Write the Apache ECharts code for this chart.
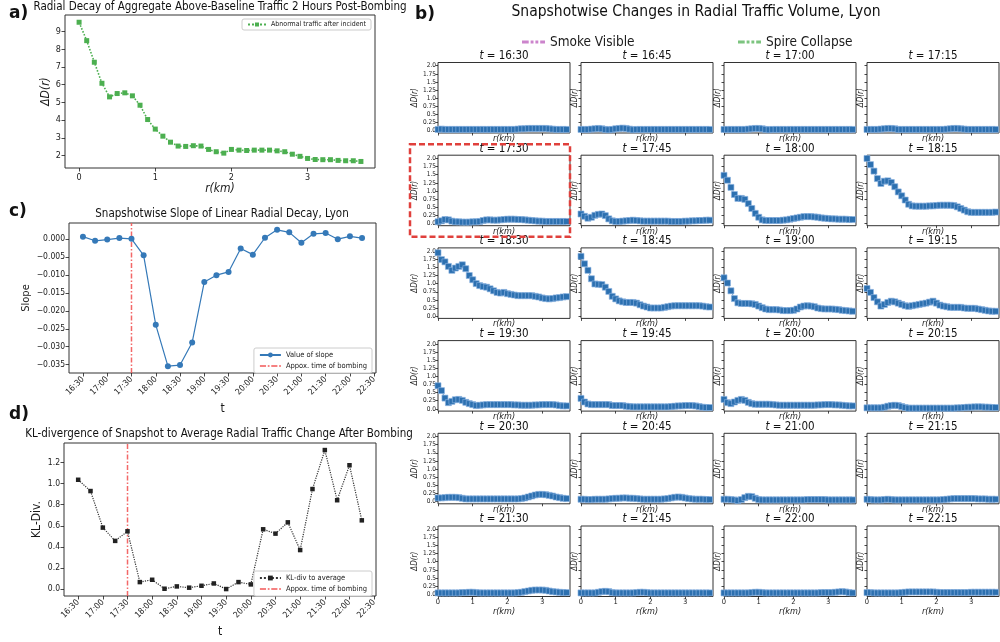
<!DOCTYPE html>
<html>
<head>
<meta charset="utf-8">
<script src="https://cdn.jsdelivr.net/npm/echarts@6/dist/echarts.min.js"></script>
<style>
  html, body { margin: 0; padding: 0; background: #fff; }
  #chart { width: 1000px; height: 642px; }
</style>
</head>
<body>
<div id="chart"></div>
<script>
// radial distance bins (km)
const radius = [0.0,0.1,0.2,0.3,0.4,0.5,0.6,0.7,0.8,0.9,1.0,1.1,1.2,1.3,1.4,1.5,1.6,1.7,1.8,1.9,2.0,2.1,2.2,2.3,2.4,2.5,2.6,2.7,2.8,2.9,3.0,3.1,3.2,3.3,3.4,3.5,3.6,3.7];

// a) aggregate above-baseline traffic, 2h post-bombing
const aggregateDecay = [9.53,8.49,7.27,6.08,5.31,5.50,5.54,5.37,4.84,4.03,3.49,3.09,2.75,2.53,2.51,2.55,2.53,2.34,2.21,2.13,2.34,2.30,2.28,2.30,2.30,2.30,2.26,2.21,2.07,1.95,1.83,1.77,1.76,1.76,1.72,1.70,1.70,1.66];

const snapshotTimes = ['16:30','16:45','17:00','17:15','17:30','17:45','18:00','18:15','18:30','18:45','19:00','19:15','19:30','19:45','20:00','20:15','20:30','20:45','21:00','21:15','21:30','21:45','22:00','22:15'];
const timeTicks = ['16:30','17:00','17:30','18:00','18:30','19:00','19:30','20:00','20:30','21:00','21:30','22:00','22:30'];
const bombingTime = '17:30';
const highlightTime = '17:30';

// c) slope of linear radial decay per snapshot
const slopeValues = [0.0006,-0.00055,-0.0002,0.0002,0.0,-0.0046,-0.0239,-0.0354,-0.0351,-0.0288,-0.0120,-0.0101,-0.0092,-0.0027,-0.0044,0.0003,0.0025,0.0018,-0.0011,0.0014,0.0016,-0.0001,0.0007,0.0002];
const slopeTickLabels = ['0.000','\u22120.005','\u22120.010','\u22120.015','\u22120.020','\u22120.025','\u22120.030','\u22120.035'];
const slopeRange = [-0.0373, 0.0044];

// d) KL divergence to the average post-bombing profile
const klValues = [1.037,0.93,0.583,0.457,0.548,0.066,0.088,0.003,0.025,0.013,0.031,0.053,0.0,0.066,0.044,0.567,0.526,0.633,0.37,0.949,1.319,0.843,1.175,0.652];
const klTickLabels = ['0.0','0.2','0.4','0.6','0.8','1.0','1.2'];
const klRange = [-0.066, 1.386];

const aggXTickLabels = ['0','1','2','3'];
const aggYTickLabels = ['2','3','4','5','6','7','8','9'];
const decayXTickLabels = ['0','1','2','3'];
const decayYTickLabels = ['0.0','0.25','0.5','0.75','1.0','1.25','1.5','1.75','2.0'];

// b) snapshot radial profiles, one row per snapshot time
const snapshotDecay = [
  [0.04,0.05,0.04,0.04,0.04,0.04,0.04,0.04,0.04,0.04,0.04,0.04,0.04,0.04,0.04,0.04,0.04,0.04,0.04,0.04,0.04,0.04,0.04,0.05,0.06,0.06,0.07,0.07,0.07,0.07,0.07,0.07,0.06,0.05,0.04,0.04,0.04,0.04], // 16:30
  [0.04,0.04,0.04,0.05,0.06,0.07,0.06,0.04,0.03,0.04,0.06,0.07,0.08,0.07,0.05,0.03,0.04,0.04,0.04,0.04,0.04,0.04,0.04,0.04,0.04,0.04,0.04,0.04,0.04,0.04,0.04,0.04,0.04,0.04,0.04,0.04,0.04,0.04], // 16:45
  [0.04,0.04,0.04,0.04,0.04,0.04,0.04,0.05,0.06,0.07,0.07,0.06,0.04,0.03,0.04,0.04,0.04,0.04,0.04,0.04,0.04,0.04,0.04,0.04,0.04,0.04,0.04,0.04,0.04,0.04,0.04,0.04,0.04,0.04,0.04,0.04,0.04,0.04], // 17:00
  [0.04,0.04,0.04,0.04,0.05,0.06,0.07,0.07,0.06,0.04,0.04,0.04,0.04,0.04,0.04,0.04,0.04,0.04,0.04,0.04,0.04,0.04,0.04,0.05,0.06,0.07,0.07,0.06,0.05,0.04,0.04,0.04,0.04,0.04,0.04,0.04,0.04,0.04], // 17:15
  [0.05,0.08,0.12,0.11,0.07,0.05,0.05,0.04,0.04,0.04,0.05,0.05,0.06,0.09,0.11,0.11,0.10,0.10,0.11,0.12,0.13,0.13,0.13,0.12,0.12,0.11,0.10,0.09,0.08,0.07,0.07,0.06,0.06,0.06,0.06,0.06,0.06,0.06], // 17:30
  [0.29,0.22,0.16,0.19,0.25,0.28,0.29,0.24,0.14,0.08,0.06,0.06,0.07,0.08,0.09,0.10,0.09,0.08,0.07,0.07,0.07,0.07,0.07,0.07,0.07,0.07,0.06,0.06,0.06,0.06,0.07,0.07,0.08,0.08,0.09,0.09,0.10,0.10], // 17:45
  [1.48,1.33,1.11,0.89,0.77,0.77,0.74,0.61,0.46,0.31,0.19,0.11,0.09,0.09,0.09,0.09,0.09,0.10,0.11,0.13,0.15,0.17,0.19,0.21,0.21,0.21,0.20,0.19,0.17,0.16,0.15,0.14,0.14,0.13,0.13,0.13,0.12,0.12], // 18:00
  [2.00,1.81,1.61,1.38,1.23,1.30,1.31,1.26,1.13,0.97,0.85,0.72,0.59,0.54,0.53,0.53,0.53,0.53,0.54,0.54,0.55,0.56,0.56,0.56,0.56,0.55,0.51,0.46,0.41,0.36,0.34,0.34,0.34,0.34,0.34,0.34,0.34,0.35], // 18:15
  [1.95,1.74,1.67,1.53,1.41,1.48,1.53,1.58,1.46,1.25,1.12,1.00,0.94,0.91,0.89,0.84,0.78,0.73,0.71,0.73,0.69,0.67,0.65,0.63,0.63,0.63,0.63,0.63,0.61,0.59,0.56,0.54,0.53,0.54,0.56,0.57,0.59,0.60], // 18:30
  [1.84,1.61,1.41,1.15,0.99,0.98,0.97,0.89,0.76,0.61,0.53,0.47,0.44,0.42,0.42,0.42,0.40,0.35,0.31,0.28,0.25,0.25,0.25,0.25,0.27,0.29,0.31,0.32,0.32,0.32,0.32,0.32,0.32,0.32,0.32,0.31,0.29,0.28], // 18:45
  [1.18,1.02,0.78,0.54,0.41,0.39,0.39,0.39,0.38,0.36,0.31,0.26,0.22,0.20,0.20,0.20,0.19,0.17,0.17,0.17,0.18,0.22,0.28,0.31,0.32,0.31,0.29,0.25,0.23,0.22,0.22,0.22,0.21,0.20,0.18,0.17,0.16,0.15], // 19:00
  [0.85,0.73,0.57,0.44,0.31,0.36,0.42,0.46,0.44,0.40,0.36,0.32,0.30,0.32,0.34,0.36,0.38,0.40,0.43,0.46,0.40,0.34,0.31,0.29,0.27,0.27,0.27,0.27,0.25,0.24,0.24,0.24,0.22,0.20,0.18,0.16,0.15,0.15], // 19:15
  [0.71,0.56,0.33,0.19,0.23,0.28,0.29,0.26,0.20,0.16,0.13,0.10,0.11,0.12,0.13,0.13,0.13,0.13,0.13,0.13,0.13,0.13,0.12,0.12,0.11,0.11,0.11,0.11,0.12,0.12,0.13,0.13,0.13,0.13,0.12,0.10,0.09,0.09], // 19:30
  [0.32,0.21,0.15,0.13,0.13,0.13,0.13,0.13,0.13,0.10,0.10,0.10,0.10,0.08,0.07,0.06,0.06,0.06,0.06,0.06,0.06,0.06,0.06,0.06,0.06,0.06,0.07,0.08,0.09,0.09,0.10,0.10,0.10,0.09,0.07,0.05,0.04,0.04], // 19:45
  [0.29,0.19,0.16,0.21,0.26,0.29,0.26,0.20,0.16,0.14,0.14,0.14,0.14,0.14,0.13,0.12,0.11,0.11,0.11,0.11,0.11,0.11,0.11,0.11,0.11,0.11,0.11,0.12,0.12,0.13,0.13,0.13,0.12,0.12,0.11,0.10,0.09,0.09], // 20:00
  [0.03,0.03,0.03,0.03,0.03,0.05,0.08,0.10,0.11,0.10,0.07,0.04,0.02,0.02,0.02,0.02,0.02,0.02,0.02,0.02,0.02,0.02,0.02,0.02,0.02,0.02,0.03,0.03,0.04,0.05,0.05,0.06,0.06,0.06,0.05,0.05,0.04,0.04], // 20:15
  [0.11,0.11,0.12,0.13,0.13,0.13,0.12,0.10,0.08,0.08,0.08,0.08,0.08,0.08,0.08,0.08,0.08,0.08,0.08,0.08,0.08,0.08,0.08,0.08,0.09,0.11,0.14,0.17,0.20,0.22,0.22,0.21,0.19,0.17,0.14,0.12,0.10,0.09], // 20:30
  [0.07,0.07,0.06,0.06,0.07,0.07,0.07,0.07,0.08,0.09,0.10,0.10,0.11,0.11,0.10,0.10,0.09,0.08,0.07,0.07,0.07,0.07,0.07,0.07,0.08,0.09,0.11,0.13,0.14,0.13,0.11,0.09,0.08,0.07,0.07,0.07,0.06,0.06], // 20:45
  [0.07,0.07,0.06,0.05,0.03,0.06,0.12,0.16,0.15,0.10,0.06,0.05,0.05,0.05,0.05,0.05,0.05,0.05,0.05,0.05,0.05,0.05,0.05,0.05,0.06,0.06,0.06,0.06,0.06,0.06,0.05,0.05,0.05,0.05,0.05,0.05,0.05,0.05], // 21:00
  [0.07,0.06,0.05,0.05,0.05,0.06,0.07,0.06,0.05,0.05,0.05,0.05,0.05,0.05,0.05,0.05,0.05,0.05,0.05,0.05,0.05,0.05,0.06,0.07,0.08,0.09,0.09,0.09,0.09,0.09,0.09,0.09,0.08,0.08,0.08,0.07,0.07,0.07], // 21:15
  [0.04,0.04,0.04,0.04,0.04,0.04,0.04,0.05,0.05,0.06,0.06,0.05,0.04,0.04,0.04,0.04,0.04,0.04,0.04,0.04,0.04,0.04,0.04,0.05,0.06,0.08,0.10,0.12,0.13,0.13,0.13,0.12,0.10,0.08,0.07,0.06,0.05,0.05], // 21:30
  [0.04,0.04,0.04,0.04,0.04,0.06,0.08,0.09,0.08,0.05,0.04,0.04,0.04,0.04,0.04,0.04,0.05,0.06,0.06,0.05,0.04,0.04,0.04,0.04,0.04,0.04,0.04,0.04,0.04,0.04,0.04,0.04,0.04,0.04,0.04,0.04,0.04,0.04], // 21:45
  [0.04,0.04,0.04,0.04,0.04,0.04,0.04,0.04,0.05,0.06,0.06,0.05,0.04,0.04,0.04,0.04,0.04,0.04,0.04,0.04,0.04,0.04,0.04,0.04,0.04,0.04,0.04,0.04,0.05,0.05,0.05,0.05,0.06,0.07,0.08,0.07,0.05,0.04], // 22:00
  [0.05,0.05,0.04,0.04,0.04,0.04,0.04,0.04,0.04,0.04,0.05,0.06,0.07,0.07,0.07,0.07,0.07,0.07,0.07,0.07,0.06,0.05,0.05,0.05,0.05,0.05,0.05,0.05,0.05,0.05,0.06,0.06,0.06,0.06,0.06,0.06,0.06,0.06]  // 22:15
];

const FONT = '"DejaVu Sans Condensed", "DejaVu Sans", sans-serif';
const INK = '#1a1a1a';
const BLUE = '#3579b8';
const SNAP_BLUE = '#2c70b0';
const GREEN = '#4caf50';
const BOMB_RED = '#f25858';
const DASH_DOT_ICON = 'path://M0,0h7v1.5h-7z M9,0h2v1.5h-2z M13,0h7v1.5h-7z M22,0h2v1.5h-2z';
const THICK_DASH_ICON = 'path://M0,0h7v3h-7z M9,0h3v3h-3z M14,0h3v3h-3z M19,0h5v3h-5z';

const toMinutes = t => { const [h, m] = t.split(':').map(Number); return h * 60 + m; };
const timeIndex = t => (toMinutes(t) - toMinutes(snapshotTimes[0])) / 15;
const num = s => parseFloat(String(s).replace('\u2212', '-'));

const grid = [], xAxis = [], yAxis = [], series = [], title = [], legend = [];

function box(left, top, width, height) {
  grid.push({ left, top, width, height, show: true, borderColor: '#333', borderWidth: 1,
    backgroundColor: 'transparent', outerBoundsMode: 'none' });
  return grid.length - 1;
}

function axis(o) {
  const lookup = {};
  if (o.labels) o.ticks.forEach((v, i) => { lookup[v] = o.labels[i]; });
  return {
    gridIndex: o.gridIndex, type: 'value', min: o.min, max: o.max,
    axisLine: { show: false, onZero: false },
    splitLine: { show: false },
    axisTick: { show: true, customValues: o.ticks, length: o.tickLen || 3.5, lineStyle: { color: INK, width: 0.8 } },
    axisLabel: {
      show: !!o.labels, customValues: o.ticks, formatter: v => (lookup[v] !== undefined ? lookup[v] : ''),
      fontSize: o.fontSize || 9, color: INK, fontFamily: FONT, margin: o.margin === undefined ? 4 : o.margin,
      rotate: o.rotate || 0, hideOverlap: false
    },
    name: o.name || '', nameLocation: 'middle', nameGap: o.nameGap || 0,
    nameTextStyle: { fontSize: o.nameSize || 11, color: INK, fontFamily: FONT, fontStyle: o.italic ? 'italic' : 'normal' }
  };
}

function legendBox(names, right, top, fontSize, extra) {
  return Object.assign({
    data: names, right, top, orient: 'vertical',
    itemWidth: 21, itemHeight: 6, itemGap: 3, padding: [3, 5],
    borderColor: '#ccc', borderWidth: 1, borderRadius: 2, backgroundColor: '#fff',
    selectedMode: false, textStyle: { fontSize, fontFamily: FONT, color: INK }
  }, extra || {});
}

// ---------- a) ----------
const gA = box(65, 15, 310, 153);
xAxis.push(axis({ gridIndex: gA, min: -0.185, max: 3.885, ticks: aggXTickLabels.map(num), labels: aggXTickLabels,
  fontSize: 9, margin: 5, name: 'r(km)', nameGap: 13, nameSize: 12, italic: true }));
yAxis.push(axis({ gridIndex: gA, min: 1.29, max: 9.94, ticks: aggYTickLabels.map(num), labels: aggYTickLabels,
  fontSize: 9, margin: 4, name: '\u0394D(r)', nameGap: 12, nameSize: 12, italic: true }));
series.push({
  name: 'Abnormal traffic after incident', type: 'line', xAxisIndex: gA, yAxisIndex: gA,
  data: radius.map((r, i) => [r, aggregateDecay[i]]),
  symbol: 'rect', symbolSize: 5, itemStyle: { color: GREEN },
  lineStyle: { color: GREEN, width: 1.6, type: 'dotted' }
});
legend.push(legendBox(['Abnormal traffic after incident'], 629, 19, 7, { itemWidth: 18, itemHeight: 5, padding: [2, 5] }));

// vertical marker at the bombing time, spanning the axis range
function bombLine(g, range) {
  const x = timeIndex(bombingTime);
  return {
    name: 'Appox. time of bombing', type: 'line', xAxisIndex: g, yAxisIndex: g,
    data: [[x, range[0]], [x, range[1]]], symbol: 'none', z: 1,
    itemStyle: { color: BOMB_RED },
    lineStyle: { color: BOMB_RED, width: 1.5, opacity: 0.9, type: [5, 2, 1.5, 2] }
  };
}

// ---------- c) ----------
const timeTickIdx = timeTicks.map(timeIndex);
const gC = box(69, 223, 307, 150);
xAxis.push(axis({ gridIndex: gC, min: -1.15, max: 24.15, ticks: timeTickIdx, labels: timeTicks,
  fontSize: 8.5, margin: 5, rotate: 45, name: 't', nameGap: 30, nameSize: 12 }));
yAxis.push(axis({ gridIndex: gC, min: slopeRange[0], max: slopeRange[1], ticks: slopeTickLabels.map(num), labels: slopeTickLabels,
  fontSize: 8.5, margin: 4, name: 'Slope', nameGap: 37, nameSize: 11 }));
series.push({
  name: 'Value of slope', type: 'line', xAxisIndex: gC, yAxisIndex: gC,
  data: snapshotTimes.map((t, i) => [timeIndex(t), slopeValues[i]]),
  symbol: 'circle', symbolSize: 6, itemStyle: { color: BLUE }, lineStyle: { color: BLUE, width: 1.2 }, z: 3
});
series.push(bombLine(gC, slopeRange));
legend.push(legendBox(['Value of slope', { name: 'Appox. time of bombing', icon: DASH_DOT_ICON }], 628, 348, 7.5));

// ---------- d) ----------
const gD = box(64, 443, 312, 153);
xAxis.push(axis({ gridIndex: gD, min: -1.15, max: 24.15, ticks: timeTickIdx, labels: timeTicks,
  fontSize: 8.5, margin: 5, rotate: 45, name: 't', nameGap: 30, nameSize: 12 }));
yAxis.push(axis({ gridIndex: gD, min: klRange[0], max: klRange[1], ticks: klTickLabels.map(num), labels: klTickLabels,
  fontSize: 8.5, margin: 4, name: 'KL-Div.', nameGap: 21, nameSize: 12 }));
series.push({
  name: 'KL-div to average', type: 'line', xAxisIndex: gD, yAxisIndex: gD,
  data: snapshotTimes.map((t, i) => [timeIndex(t), klValues[i]]),
  symbol: 'rect', symbolSize: 4.5, itemStyle: { color: '#222' }, lineStyle: { color: '#333', width: 1.2, type: 'dotted' }, z: 3
});
series.push(bombLine(gD, klRange));
legend.push(legendBox(['KL-div to average', { name: 'Appox. time of bombing', icon: DASH_DOT_ICON }], 628, 571, 7.5));

// ---------- b) small multiples ----------
const colLeft0 = 438, colStep = 143, cellW = 132;
const rowTop0 = 62.5, rowStep = 92.7, cellH = 70.5;
let firstSmall = -1;
snapshotTimes.forEach((t, k) => {
  const row = Math.floor(k / 4), col = k % 4;
  const left = colLeft0 + col * colStep, top = rowTop0 + row * rowStep;
  const g = box(left, top, cellW, cellH);
  if (firstSmall < 0) firstSmall = g;
  const bottomRow = row === 5, firstCol = col === 0;
  xAxis.push(axis({ gridIndex: g, min: 0, max: 3.8, ticks: decayXTickLabels.map(num),
    labels: bottomRow ? decayXTickLabels : null, fontSize: 7.5, margin: 2, tickLen: 2.5,
    name: 'r(km)', nameGap: bottomRow ? 8 : 1, nameSize: 9, italic: true }));
  yAxis.push(axis({ gridIndex: g, min: -0.07, max: 2.1, ticks: decayYTickLabels.map(num),
    labels: firstCol ? decayYTickLabels : null, fontSize: 6.5, margin: 2, tickLen: 2.5,
    name: '\u0394D(r)', nameGap: firstCol ? 13 : 2, nameSize: 8, italic: true }));
  series.push({
    name: 'snapshot ' + t, type: 'line', xAxisIndex: g, yAxisIndex: g,
    data: radius.map((r, i) => [r, snapshotDecay[k][i]]),
    symbol: 'rect', symbolSize: 6,
    itemStyle: { color: SNAP_BLUE, borderColor: 'rgba(140,180,225,0.8)', borderWidth: 0.8 },
    lineStyle: { color: SNAP_BLUE, width: 1, type: 'dotted' }
  });
  title.push({
    text: '{i|t} = ' + t, left: left + cellW / 2, top: top - 12.5, textAlign: 'center', padding: 0,
    textStyle: { fontSize: 11.5, fontWeight: 'normal', color: '#111', fontFamily: FONT,
      rich: { i: { fontStyle: 'italic', fontSize: 11.5, fontFamily: FONT, color: '#111' } } }
  });
});

// event markers for panel b (legend only)
series.push({ name: 'Smoke Visible', type: 'line', xAxisIndex: firstSmall, yAxisIndex: firstSmall, data: [],
  symbol: 'none', itemStyle: { color: '#cc84cc' }, lineStyle: { color: '#cc84cc', width: 3, type: [5, 2, 2, 2] } });
series.push({ name: 'Spire Collapse', type: 'line', xAxisIndex: firstSmall, yAxisIndex: firstSmall, data: [],
  symbol: 'none', itemStyle: { color: '#7cc47f' }, lineStyle: { color: '#7cc47f', width: 3, type: [5, 2, 2, 2] } });
const bigLegendText = { fontSize: 13.5, fontFamily: FONT, color: INK };
legend.push({ data: [{ name: 'Smoke Visible', icon: THICK_DASH_ICON }], left: 522, top: 35, itemWidth: 23, itemHeight: 3, itemGap: 8,
  padding: 0, selectedMode: false, textStyle: bigLegendText });
legend.push({ data: [{ name: 'Spire Collapse', icon: THICK_DASH_ICON }], left: 738, top: 35, itemWidth: 23, itemHeight: 3, itemGap: 8,
  padding: 0, selectedMode: false, textStyle: bigLegendText });

// panel titles
const titleText = { fontSize: 11.5, fontWeight: 'normal', color: '#111', fontFamily: FONT };
title.push({ text: 'Radial Decay of Aggregate Above-Baseline Traffic 2 Hours Post-Bombing', left: 220, top: 1,
  textAlign: 'center', padding: 0, textStyle: titleText });
title.push({ text: 'Snapshotwise Slope of Linear Radial Decay, Lyon', left: 222, top: 208,
  textAlign: 'center', padding: 0, textStyle: titleText });
title.push({ text: 'KL-divergence of Snapshot to Average Radial Traffic Change After Bombing', left: 219, top: 428,
  textAlign: 'center', padding: 0, textStyle: titleText });
title.push({ text: 'Snapshotwise Changes in Radial Traffic Volume, Lyon', left: 696, top: 4,
  textAlign: 'center', padding: 0, textStyle: { fontSize: 15.5, fontWeight: 'normal', color: '#111', fontFamily: FONT } });

// panel letters and the highlighted bombing snapshot
const letterStyle = { font: 'bold 17px "DejaVu Sans", sans-serif', fill: '#111', textVerticalAlign: 'middle' };
const hk = snapshotTimes.indexOf(highlightTime);
const hx = colLeft0 + (hk % 4) * colStep, hy = rowTop0 + Math.floor(hk / 4) * rowStep;
const graphic = [
  { type: 'text', x: 9, y: 14, style: Object.assign({ text: 'a)' }, letterStyle) },
  { type: 'text', x: 415, y: 15, style: Object.assign({ text: 'b)' }, letterStyle) },
  { type: 'text', x: 9, y: 212, style: Object.assign({ text: 'c)' }, letterStyle) },
  { type: 'text', x: 9, y: 415, style: Object.assign({ text: 'd)' }, letterStyle) },
  { type: 'rect', silent: true, z: 100,
    shape: { x: hx - 28, y: hy - 11, width: cellW + 28, height: cellH + 22 },
    style: { fill: 'none', stroke: '#e0403c', lineWidth: 2.5, lineDash: [6, 3] } }
];

const chart = echarts.init(document.getElementById('chart'), null, { renderer: 'canvas' });
chart.setOption({
  animation: false,
  backgroundColor: '#fff',
  textStyle: { fontFamily: FONT },
  grid, xAxis, yAxis, series, title, legend, graphic
});
</script>
</body>
</html>
